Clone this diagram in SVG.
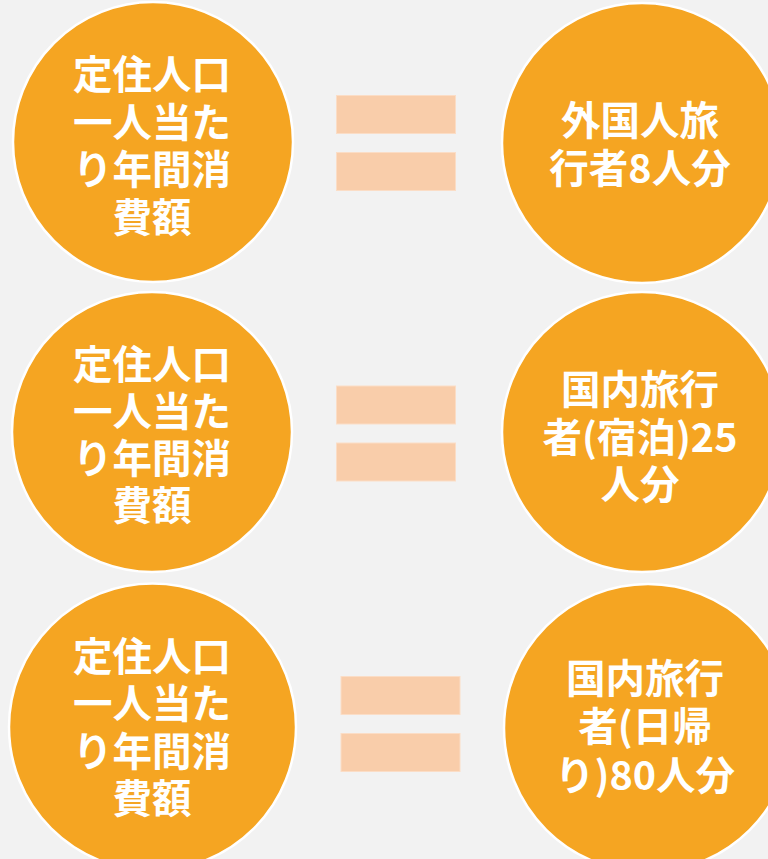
<svg xmlns="http://www.w3.org/2000/svg" width="768" height="859" viewBox="0 0 768 859">
<style>
.c{fill:#f5a522;stroke:#ffffff;stroke-width:2.5}
.t{fill:#ffffff;font-family:"Noto Sans CJK JP","Noto Sans",sans-serif;font-weight:bold;font-size:39.5px;text-anchor:middle;dominant-baseline:central}
.b{fill:#f9cdaa;stroke:#fbddc6;stroke-width:1}
</style>
<rect width="768" height="859" fill="#f2f2f2"/>
<g id="left1"><circle class="c" cx="153" cy="142" r="140"/>
<text class="t"><tspan x="152" y="71">定住人口</tspan><tspan x="152" y="118.5">一人当た</tspan><tspan x="152" y="166">り年間消</tspan><tspan x="152" y="213.5">費額</tspan></text></g>
<g id="right1"><circle class="c" cx="642" cy="143" r="140"/>
<text class="t"><tspan x="640" y="117">外国人旅</tspan><tspan x="640" y="165">行者8人分</tspan></text></g>
<g id="left2"><circle class="c" cx="152" cy="432" r="140"/>
<text class="t"><tspan x="152" y="361">定住人口</tspan><tspan x="152" y="408">一人当た</tspan><tspan x="152" y="455">り年間消</tspan><tspan x="152" y="502">費額</tspan></text></g>
<g id="right2"><circle class="c" cx="642" cy="432" r="140"/>
<text class="t"><tspan x="640" y="386">国内旅行</tspan><tspan x="640" y="434">者(宿泊)25</tspan><tspan x="640" y="481">人分</tspan></text></g>
<g id="left3"><circle class="c" cx="152.5" cy="727" r="143.5"/>
<text class="t"><tspan x="152" y="653">定住人口</tspan><tspan x="152" y="700">一人当た</tspan><tspan x="152" y="748">り年間消</tspan><tspan x="152" y="795">費額</tspan></text></g>
<g id="right3"><circle class="c" cx="648" cy="728" r="144"/>
<text class="t"><tspan x="645" y="675">国内旅行</tspan><tspan x="645" y="723">者(日帰</tspan><tspan x="645" y="772">り)80人分</tspan></text></g>
<g id="connectors">
<rect class="b" x="336.5" y="95.5" width="119" height="38"/>
<rect class="b" x="336.5" y="152.5" width="119" height="38"/>
<rect class="b" x="336.5" y="386" width="119" height="38"/>
<rect class="b" x="336.5" y="443" width="119" height="38"/>
<rect class="b" x="341" y="676.5" width="119" height="38"/>
<rect class="b" x="341" y="733.5" width="119" height="38"/>
</g>
</svg>
